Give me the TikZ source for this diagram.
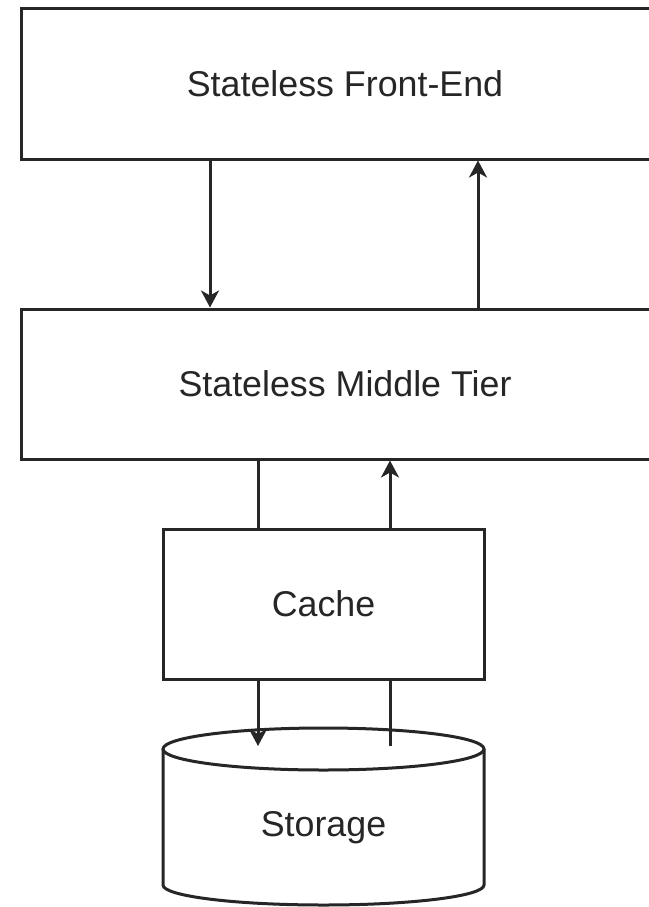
\documentclass[tikz,border=0pt]{standalone}
\usepackage{fontspec}
\setmainfont{Liberation Sans}
\usetikzlibrary{arrows.meta}
\begin{document}
\begin{tikzpicture}[x=1pt,y=-1pt,
  tier/.style={draw=black!85, line width=3pt, fill=white, minimum width=648pt, minimum height=150pt, inner sep=0pt},
  cachebox/.style={draw=black!85, line width=3pt, fill=white, minimum width=321pt, minimum height=150pt, inner sep=0pt},
  lbl/.style={font=\fontsize{35.8}{40}\selectfont, text=black!85},
  link/.style={draw=black!85, line width=3pt},
  flow/.style={link, -{Stealth[length=17pt,width=18pt,inset=5pt]}}]
\useasboundingbox (0,0) rectangle (648,907);

% tiers
\node[tier, lbl] (fe) at (345,84) {Stateless Front-End};
\node[tier, lbl] (mt) at (345,384) {Stateless Middle Tier};
\node[cachebox, lbl] (ca) at (323.5,604) {Cache};

% storage cylinder: body, top rim, then its label
\draw[link, fill=white] (163,749) -- (163,885) arc[start angle=180, end angle=0, x radius=160.5, y radius=20] -- (484,749);
\draw[link, fill=white] (323.5,749) ellipse[x radius=160.5, y radius=21];
\node[lbl, minimum width=321pt, minimum height=120pt] (st) at (323.5,828) {Storage};
\coordinate (sttop) at (323.5,746);

% connector columns
\coordinate (c1) at (210,0);
\coordinate (c2) at (478,0);
\coordinate (c3) at (258,0);
\coordinate (c4) at (390,0);

\draw[flow] (fe.south -| c1) -- (mt.north -| c1);
\draw[flow] (mt.north -| c2) -- (fe.south -| c2);

\draw[link] (mt.south -| c3) -- (ca.north -| c3);
\draw[flow] (ca.south -| c3) -- (sttop -| c3);
\draw[link] (sttop -| c4) -- (ca.south -| c4);
\draw[flow] (ca.north -| c4) -- (mt.south -| c4);
\end{tikzpicture}
\end{document}
